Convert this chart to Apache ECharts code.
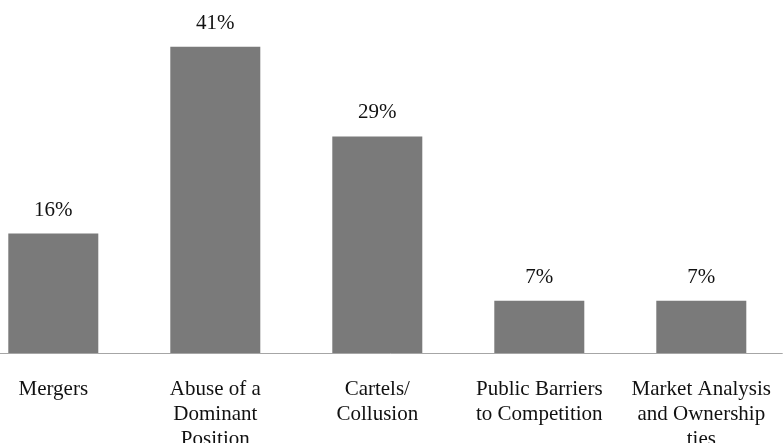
<!DOCTYPE html>
<html>
<head>
<meta charset="utf-8">
<script src="https://cdn.jsdelivr.net/npm/echarts@6/dist/echarts.min.js"></script>
<style>
html,body{margin:0;padding:0;background:#fff;}
#chart{width:784px;height:443px;}
</style>
</head>
<body>
<div id="chart"></div>
<script>
var categories = [
  "Mergers",
  "Abuse of a\nDominant\nPosition",
  "Cartels/\nCollusion",
  "Public Barriers\nto Competition",
  "Market Analysis\nand Ownership\nties"
];
var values = [16, 41, 29, 7, 7];

var serif = 'Times New Roman, Liberation Serif, DejaVu Serif, serif';
var chart = echarts.init(document.getElementById('chart'), null, {renderer: 'canvas'});
chart.setOption({
  animation: false,
  backgroundColor: '#ffffff',
  grid: {left: -27.7, right: 1.7, top: 17, bottom: 90, containLabel: false, outerBoundsMode: 'none'},
  xAxis: {
    type: 'category',
    data: categories,
    axisLine: {show: true, lineStyle: {color: '#a6a6a6', width: 1}},
    axisTick: {show: false},
    axisLabel: {
      interval: 0,
      margin: 24,
      color: '#111',
      fontFamily: serif,
      fontSize: 21,
      lineHeight: 25,
      align: 'center'
    }
  },
  yAxis: {
    type: 'value',
    min: 0,
    max: 45,
    show: false,
    splitLine: {show: false}
  },
  series: [{
    type: 'bar',
    data: values,
    barWidth: 90,
    itemStyle: {color: '#7a7a7a'},
    label: {
      show: true,
      position: 'top',
      distance: 13,
      formatter: '{c}%',
      color: '#111',
      fontFamily: serif,
      fontSize: 21
    }
  }]
});
</script>
</body>
</html>
